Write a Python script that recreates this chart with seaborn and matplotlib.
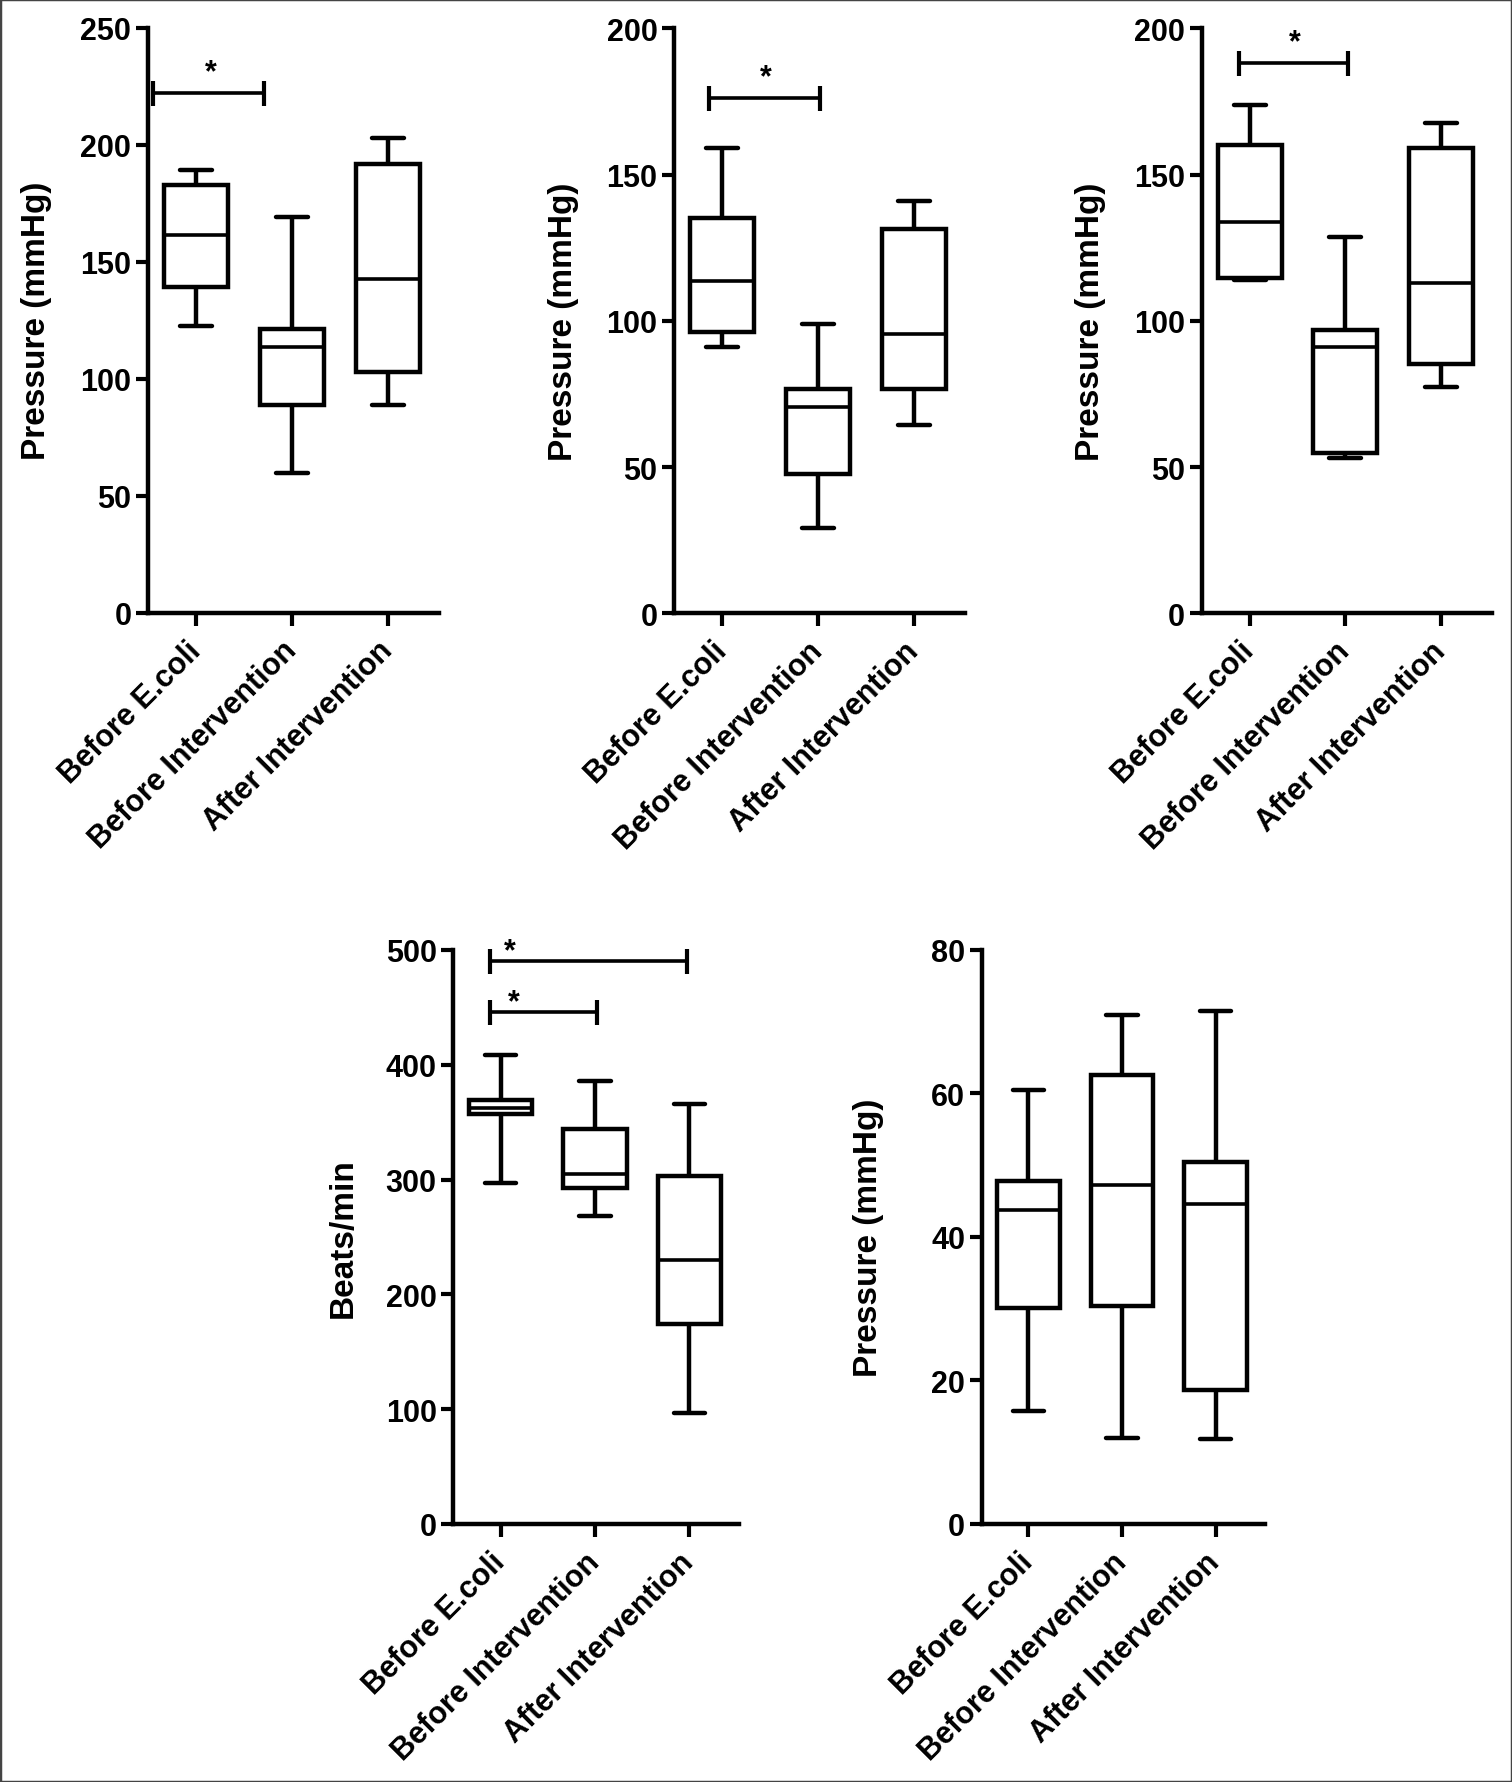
import numpy as np
import pandas as pd
import seaborn as sns
import matplotlib.pyplot as plt
from matplotlib.patches import Rectangle

groups = ["Before E.coli", "Before Intervention", "After Intervention"]

# five-number summaries: min, Q1, median, Q3, max
p1_before_ecoli = [122.3, 139.2, 161.4, 182.8, 189.3]
p1_before_int = [59.8, 88.6, 113.7, 121.2, 169.2]
p1_after_int = [88.6, 102.9, 142.7, 191.6, 202.9]

p2_before_ecoli = [91.1, 96.3, 113.7, 135.1, 159.1]
p2_before_int = [29.3, 47.7, 70.5, 76.8, 98.8]
p2_after_int = [64.5, 76.8, 95.6, 131.5, 141.0]

p3_before_ecoli = [114.0, 114.7, 133.7, 160.2, 173.8]
p3_before_int = [53.0, 54.7, 91.1, 96.7, 128.7]
p3_after_int = [77.5, 85.4, 113.1, 159.1, 167.5]

p4_before_ecoli = [297.2, 357.1, 362.3, 369.1, 408.7]
p4_before_int = [268.6, 292.7, 304.8, 344.4, 385.7]
p4_after_int = [97.1, 173.9, 230.0, 303.0, 365.7]

p5_before_ecoli = [15.7, 30.1, 43.8, 47.8, 60.5]
p5_before_int = [12.0, 30.4, 47.2, 62.5, 70.9]
p5_after_int = [11.8, 18.7, 44.6, 50.4, 71.5]

ylabels = ["Pressure (mmHg)", "Pressure (mmHg)", "Pressure (mmHg)", "Beats/min", "Pressure (mmHg)"]
ymax = [250, 200, 200, 500, 80]
ystep = [50, 50, 50, 100, 20]

# significance brackets: (x start, x end, y level, star x, star offset in pt)
p1_brackets = [(-0.45, 0.71, 222, 0.15, 15)]
p2_brackets = [(-0.14, 1.02, 176.3, 0.455, 15)]
p3_brackets = [(-0.11, 1.03, 188.1, 0.47, 15)]
p4_brackets = [(-0.11, 1.98, 490, 0.095, 7), (-0.11, 1.02, 446, 0.14, 7)]
p5_brackets = []

panels = [
    [p1_before_ecoli, p1_before_int, p1_after_int],
    [p2_before_ecoli, p2_before_int, p2_after_int],
    [p3_before_ecoli, p3_before_int, p3_after_int],
    [p4_before_ecoli, p4_before_int, p4_after_int],
    [p5_before_ecoli, p5_before_int, p5_after_int],
]
brackets = [p1_brackets, p2_brackets, p3_brackets, p4_brackets, p5_brackets]

# axes boxes [left, bottom, width, height] in figure fraction
positions = [
    [0.0979, 0.6559, 0.1925, 0.3280],
    [0.4458, 0.6555, 0.1925, 0.3280],
    [0.7948, 0.6555, 0.1918, 0.3280],
    [0.2998, 0.1447, 0.1892, 0.3220],
    [0.6493, 0.1447, 0.1874, 0.3220],
]
label_x = [-0.33, -0.325, -0.33, -0.33, -0.345]

sns.set_style("ticks")
plt.rcParams['font.family'] = ['Liberation Sans', 'DejaVu Sans']
plt.rcParams['font.weight'] = 'bold'
plt.rcParams['axes.labelweight'] = 'bold'
for key in ['text.color', 'axes.labelcolor', 'xtick.color', 'ytick.color', 'axes.edgecolor']:
    plt.rcParams[key] = 'black'

fig = plt.figure(figsize=(15.12, 17.83), dpi=100)

for i in range(5):
    ax = fig.add_axes(positions[i])
    df = pd.DataFrame({
        "group": np.repeat(groups, 5),
        "value": np.concatenate(panels[i]),
    })
    sns.boxplot(data=df, x="group", y="value", order=groups, whis=(0, 100),
                width=0.67, color="white", linecolor="black", linewidth=3.2,
                medianprops={"linewidth": 2.6}, ax=ax)

    for x0, x1, y, sx, off in brackets[i]:
        ax.plot([x0, x1], [y, y], color="black", lw=2.6, marker="|",
                markersize=18, mew=3.0, clip_on=False)
        ax.annotate("*", xy=(sx, y), xytext=(0, off), textcoords="offset points",
                    ha="center", va="center", fontsize=22, fontweight="bold")

    ax.set_xlim(-0.5, 2.53)
    ax.set_ylim(0, ymax[i])
    ax.set_yticks(np.arange(0, ymax[i] + 1, ystep[i]))
    ax.set_xticks(range(3))
    ax.set_xticklabels(groups, rotation=45, ha="right", va="center",
                       rotation_mode="anchor")
    ax.set_xlabel("")
    ax.set_ylabel(ylabels[i], fontsize=24, fontweight="bold")
    ax.yaxis.set_label_coords(label_x[i], 0.5)

    sns.despine(ax=ax)
    for s in ["left", "bottom"]:
        ax.spines[s].set_linewidth(3.2)
    ax.tick_params(axis="both", length=9, width=3.0, labelsize=22, color="black")
    ax.tick_params(axis="y", pad=3)
    ax.tick_params(axis="x", pad=15)

fig.patches.append(Rectangle((0, 0), 1, 1, transform=fig.transFigure, fill=False,
                             edgecolor="#444444", lw=2.5))

fig.savefig("out.png", dpi=100)
